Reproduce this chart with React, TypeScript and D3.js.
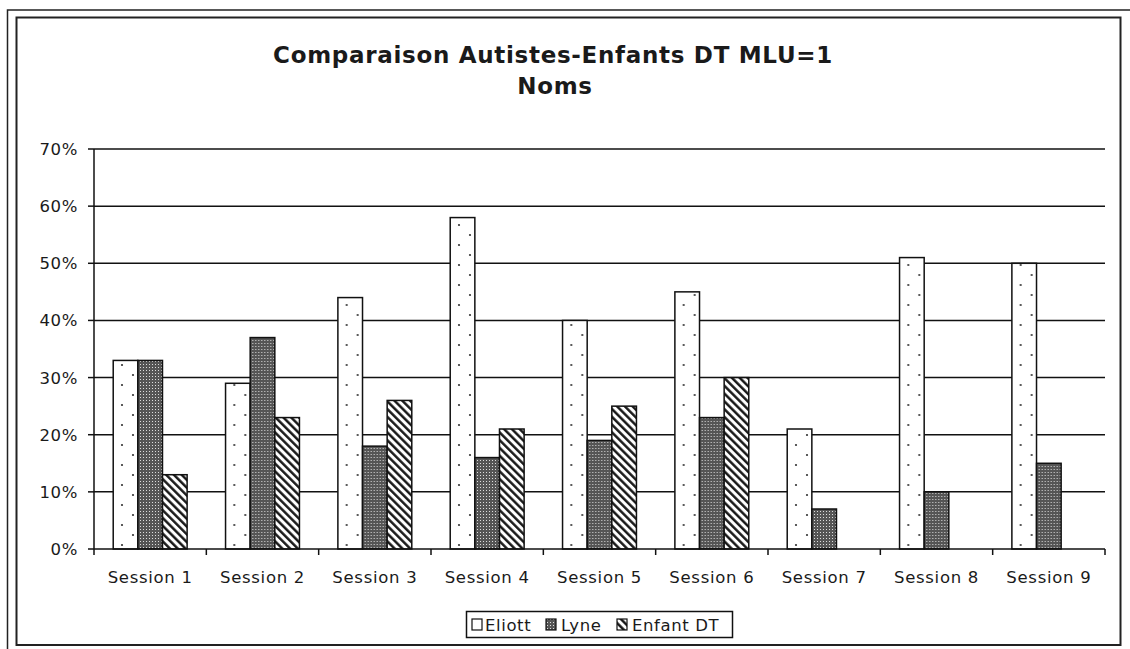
import * as d3 from "d3";

const sessions = ["Session 1", "Session 2", "Session 3", "Session 4", "Session 5", "Session 6", "Session 7", "Session 8", "Session 9"];
const seriesNames = ["Eliott", "Lyne", "Enfant DT"];
const eliott = [33, 29, 44, 58, 40, 45, 21, 51, 50];
const lyne = [33, 37, 18, 16, 19, 23, 7, 10, 15];
const enfantDT = [13, 23, 26, 21, 25, 30, null, null, null];
const yTicks = [0, 10, 20, 30, 40, 50, 60, 70];
const titleLines = ["Comparaison Autistes-Enfants DT MLU=1", "Noms"];

const W = 1130;
const H = 649;
const FONT = "'DejaVu Sans', Verdana, sans-serif";
const INK = "#1a1a1a";

const plot = { left: 94, right: 1105, top: 149, bottom: 549 };

export default function App() {
  const x = d3.scaleBand<string>().domain(sessions).range([plot.left, plot.right]).paddingInner(0).paddingOuter(0);
  const x1 = d3.scaleBand<string>().domain(seriesNames).range([0, x.bandwidth()]).paddingOuter(0.78).paddingInner(0);
  const y = d3.scaleLinear().domain([0, 70]).range([plot.bottom, plot.top]);

  const all = [eliott, lyne, enfantDT];
  const fills = ["url(#pDots)", "url(#pCheck)", "url(#pDiag)"];

  const legendItems = [
    { name: seriesNames[0], sx: 472, tx: 485 },
    { name: seriesNames[1], sx: 546, tx: 561 },
    { name: seriesNames[2], sx: 617, tx: 632 },
  ];

  return (
    <div style={{ position: "absolute", left: 0, top: 0 }}>
      <svg width={W} height={H} style={{ display: "block", background: "#fff" }}>
        <defs>
          <pattern id="pDots" width="22" height="20" patternUnits="userSpaceOnUse" x="0" y="0">
            <rect width="22" height="20" fill="#fff" />
            <circle cx="6" cy="5" r="1.1" fill="#333" />
            <circle cx="17" cy="15" r="1.1" fill="#333" />
          </pattern>
          <pattern id="pCheck" width="3" height="3" patternUnits="userSpaceOnUse">
            <rect width="3" height="3" fill="#555" />
            <rect x="1" y="1" width="1" height="1" fill="#ddd" />
          </pattern>
          <pattern id="pDiag" width="5.5" height="5.5" patternUnits="userSpaceOnUse" patternTransform="rotate(-45)">
            <rect width="5.5" height="5.5" fill="#fff" />
            <line x1="1.3" y1="0" x2="1.3" y2="5.5" stroke="#111" strokeWidth="2.4" />
          </pattern>
        </defs>

        {/* cadres */}
        <rect x={7.5} y={10} width={1130} height={660} fill="none" stroke="#222" strokeWidth={1.5} />
        <rect x={16.5} y={17.5} width={1104} height={627.5} fill="none" stroke="#222" strokeWidth={2} />

        {/* titre */}
        <text x={553} y={63} textAnchor="middle" fontFamily={FONT} fontWeight="bold" fontSize={23} letterSpacing={0.7} fill={INK}>{titleLines[0]}</text>
        <text x={555} y={94} textAnchor="middle" fontFamily={FONT} fontWeight="bold" fontSize={23} letterSpacing={0.7} fill={INK}>{titleLines[1]}</text>

        {/* grille */}
        {yTicks.map(t => (
          <g key={t}>
            {t > 0 && <line x1={plot.left} x2={plot.right} y1={y(t)} y2={y(t)} stroke="#111" strokeWidth={1.5} />}
            <line x1={plot.left - 6} x2={plot.left} y1={y(t)} y2={y(t)} stroke="#111" strokeWidth={1.5} />
            <text x={78} y={y(t)} dy="0.36em" textAnchor="end" fontFamily={FONT} fontSize={16.5} letterSpacing={0.6} fill={INK}>{t}%</text>
          </g>
        ))}

        {/* barres */}
        {sessions.map((s, i) => (
          <g key={s} transform={`translate(${x(s)},0)`}>
            {all.map((ser, k) => {
              const v = ser[i];
              if (v == null) return null;
              return (
                <rect key={k} x={x1(seriesNames[k])} y={y(v)} width={x1.bandwidth()} height={y(0) - y(v)}
                  fill={fills[k]} stroke="#111" strokeWidth={1.5} />
              );
            })}
          </g>
        ))}

        {/* axes */}
        <line x1={plot.left} x2={plot.left} y1={plot.top} y2={plot.bottom} stroke="#111" strokeWidth={1.5} />
        <line x1={plot.left} x2={plot.right} y1={plot.bottom} y2={plot.bottom} stroke="#111" strokeWidth={1.5} />
        {sessions.map((s, i) => (
          <line key={"t" + i} x1={x(s)} x2={x(s)} y1={plot.bottom} y2={plot.bottom + 6} stroke="#111" strokeWidth={1.5} />
        ))}
        <line x1={plot.right} x2={plot.right} y1={plot.bottom} y2={plot.bottom + 6} stroke="#111" strokeWidth={1.5} />
        {sessions.map(s => (
          <text key={"l" + s} x={(x(s) as number) + x.bandwidth() / 2} y={583} textAnchor="middle" fontFamily={FONT} fontSize={16.5} letterSpacing={0.7} fill={INK}>{s}</text>
        ))}

        {/* légende */}
        <rect x={466.5} y={611.5} width={266} height={26} fill="#fff" stroke="#111" strokeWidth={1.5} />
        {legendItems.map((it, k) => (
          <g key={it.name}>
            <rect x={it.sx} y={619} width={10} height={11} fill={fills[k]} stroke="#111" strokeWidth={1.2} />
            <text x={it.tx} y={631} fontFamily={FONT} fontSize={16.5} letterSpacing={0.6} fill={INK}>{it.name}</text>
          </g>
        ))}
      </svg>
    </div>
  );
}
